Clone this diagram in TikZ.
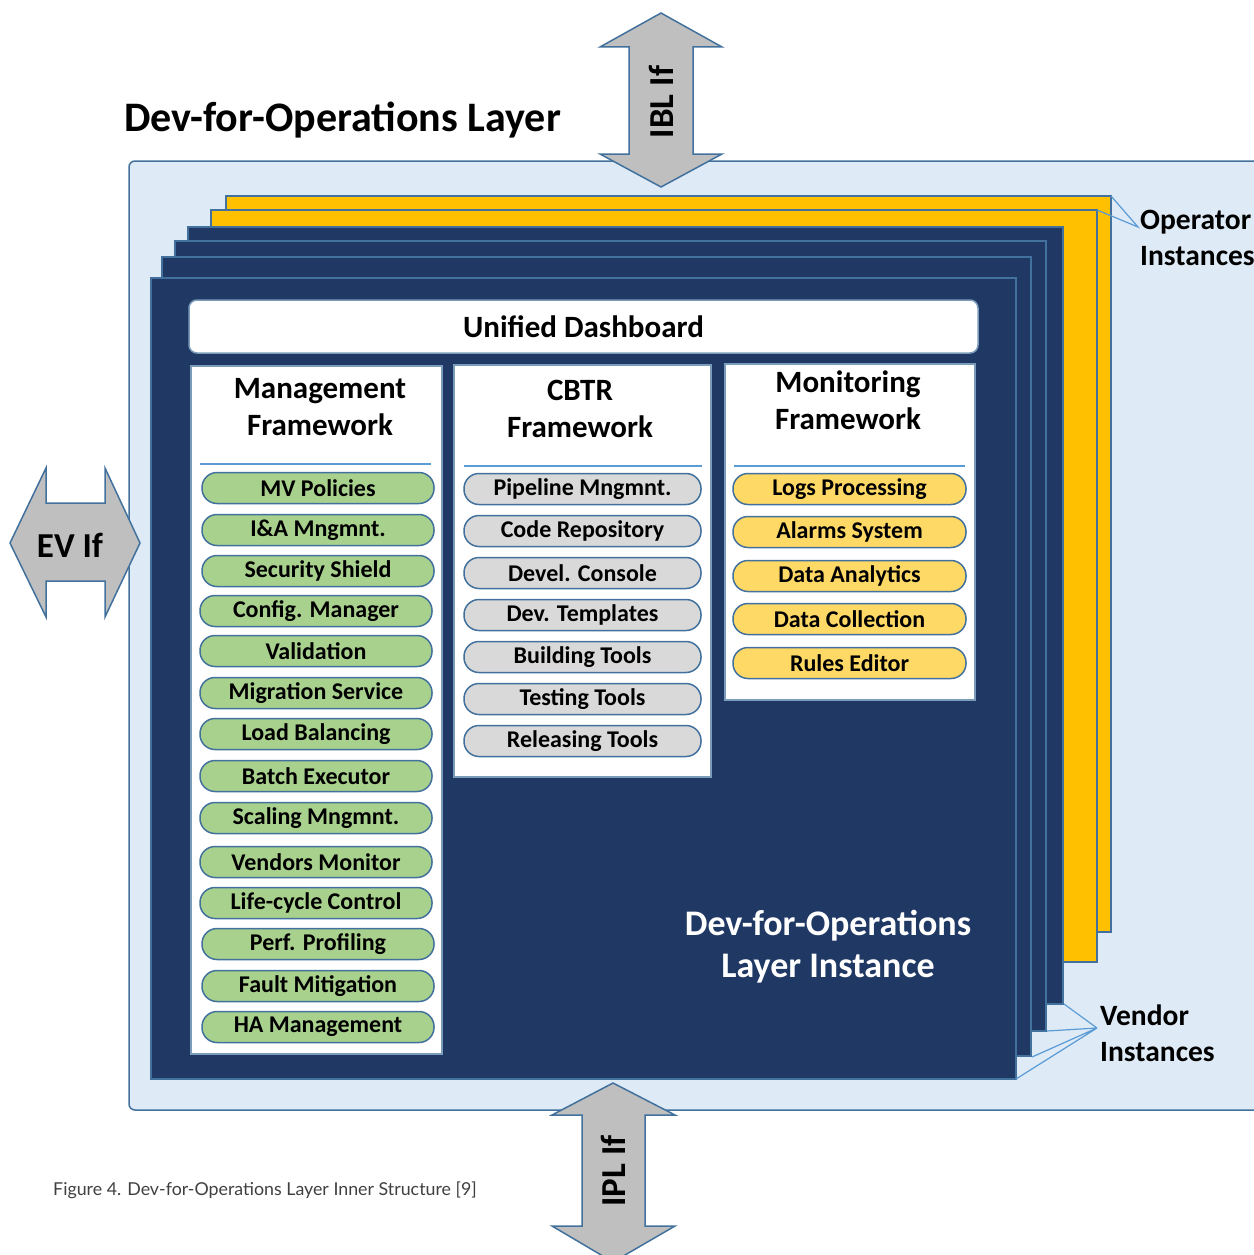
\documentclass[tikz,border=0pt]{standalone}
\usepackage{fontspec}
\setmainfont{Carlito}
\newfontfamily\capfont{Lato}
\definecolor{bgblue}{HTML}{DEEAF6}
\definecolor{edgeblue}{HTML}{41719C}
\definecolor{leadblue}{HTML}{5B9BD5}
\definecolor{navy}{HTML}{203864}
\definecolor{gold}{HTML}{FFC000}
\definecolor{greenit}{HTML}{A9D18E}
\definecolor{grayit}{HTML}{D9D9D9}
\definecolor{yellowit}{HTML}{FFD966}
\definecolor{arrowgray}{HTML}{BFBFBF}
\begin{document}
\begin{tikzpicture}[x=1pt,y=-1pt,
  layerY/.style={fill=gold,draw=edgeblue,line width=1.5pt},
  layerN/.style={fill=navy,draw=edgeblue,line width=1.5pt},
  frame/.style={fill=white,draw=edgeblue!70,line width=1.5pt},
  sep/.style={draw=leadblue,line width=1.5pt},
  item/.style={draw=edgeblue,line width=1.5pt,rounded corners=15pt,minimum height=31pt,inner sep=0pt,font=\fontsize{24}{26}\selectfont\bfseries},
  gitem/.style={item,fill=greenit,minimum width=232pt},
  citem/.style={item,fill=grayit,minimum width=237pt},
  yitem/.style={item,fill=yellowit,minimum width=233pt},
  ftitle/.style={align=center,font=\fontsize{31}{37.5}\selectfont\bfseries},
  arr/.style={fill=arrowgray,draw=edgeblue,line width=1.5pt,line join=miter},
  lead/.style={draw=leadblue,line width=1.2pt},
  lbl/.style={font=\fontsize{29.5}{36}\selectfont\bfseries,align=left,inner sep=0pt}]
\useasboundingbox (0,0) rectangle (1253,1255);
% outer layer
\draw[fill=bgblue,draw=edgeblue,line width=1.5pt,rounded corners=6pt] (129,161) -- (1260,161) -- (1260,1110) -- (129,1110) -- cycle;
\node[font=\fontsize{42}{46}\selectfont\bfseries,anchor=base west,inner sep=0pt] (title) at (124,131) {Dev-for-Operations Layer};
% arrows
\draw[arr] (661,13) -- (722,47) -- (693,47) -- (693,154) -- (722,154) -- (661,187) -- (600,154) -- (629,154) -- (629,47) -- (600,47) -- cycle;
\node[rotate=90,font=\fontsize{35}{37}\selectfont\bfseries] (ibl) at (661,102) {IBL If};
\draw[arr] (10,543) -- (46,468) -- (46,503) -- (105,503) -- (105,468) -- (140,543) -- (105,617) -- (105,581) -- (46,581) -- (46,617) -- cycle;
\node[font=\fontsize{35}{37}\selectfont\bfseries] (ev) at (70,545) {EV If};
\draw[arr] (613,1083) -- (675,1115) -- (645,1115) -- (645,1226) -- (675,1226) -- (613,1262) -- (552,1226) -- (582,1226) -- (582,1115) -- (552,1115) -- cycle;
\node[rotate=90,font=\fontsize{35}{37}\selectfont\bfseries] (ipl) at (613,1171) {IPL If};
% stacked instances
\draw[layerY] (226,196) rectangle (1111,932);
\draw[layerY] (211,210) rectangle (1097,962);
\draw[layerN] (188,227) rectangle (1063,1004);
\draw[layerN] (175,241) rectangle (1046,1031);
\draw[layerN] (162,257) rectangle (1031,1056);
\draw[layerN] (151,278) rectangle (1016,1079);
% leader lines
\coordinate (opc) at (1138,227);
\coordinate (y1c) at (1111,196);
\coordinate (y2c) at (1097,210);
\draw[lead] (y1c) -- (opc) -- (y2c);
\node[lbl,anchor=west] (oplbl) at (1140,238) {Operator\\Instances};
\coordinate (vnc) at (1097,1028);
\coordinate (n1c) at (1064,1004);
\coordinate (n2c) at (1047,1031);
\coordinate (n3c) at (1032,1057);
\coordinate (n4c) at (1016,1079);
\draw[lead] (n1c) -- (vnc) (n2c) -- (vnc) (n3c) -- (vnc) (n4c) -- (vnc);
\node[lbl,anchor=west] (vnlbl) at (1100,1033) {Vendor\\Instances};
% dashboard
\node[draw=edgeblue!70,fill=white,line width=1.5pt,rounded corners=8pt,minimum width=789pt,minimum height=53pt,inner sep=0pt,font=\fontsize{31}{33}\selectfont\bfseries] (dash) at (583.5,326.5) {Unified Dashboard};
% frameworks
\draw[frame] (191,366) rectangle (442,1054);
\draw[frame] (454,365) rectangle (711,777);
\draw[frame] (725,364) rectangle (975,700);
\node[ftitle] (mgt) at (320,407) {Management\\Framework};
\node[ftitle] (cbt) at (580,409) {CBTR\\Framework};
\node[ftitle] (mon) at (848,400) {Monitoring\\Framework};
\draw[sep] (200,464) -- (431,464);
\draw[sep] (464,466) -- (702,466);
\draw[sep] (734,466) -- (965,466);
% management items
\node[gitem] (g1) at (318,488) {MV Policies};
\node[gitem] (g2) at (318,530) {I\&A Mngmnt.};
\node[gitem] (g3) at (318,571) {Security Shield};
\node[gitem] (g4) at (316,611) {Config. Manager};
\node[gitem] (g5) at (316,651) {Validation};
\node[gitem] (g6) at (316,693) {Migration Service};
\node[gitem] (g7) at (316,734) {Load Balancing};
\node[gitem] (g8) at (316,776) {Batch Executor};
\node[gitem] (g9) at (316,818) {Scaling Mngmnt.};
\node[gitem] (g10) at (316,862) {Vendors Monitor};
\node[gitem] (g11) at (316,903) {Life-cycle Control};
\node[gitem] (g12) at (318,944) {Perf. Profiling};
\node[gitem] (g13) at (318,986) {Fault Mitigation};
\node[gitem] (g14) at (318,1027) {HA Management};
% CBTR items
\node[citem] (c1) at (582.5,489) {Pipeline Mngmnt.};
\node[citem] (c2) at (582.5,531) {Code Repository};
\node[citem] (c3) at (582.5,573) {Devel. Console};
\node[citem] (c4) at (582.5,615) {Dev. Templates};
\node[citem] (c5) at (582.5,657) {Building Tools};
\node[citem] (c6) at (582.5,699) {Testing Tools};
\node[citem] (c7) at (582.5,741) {Releasing Tools};
% monitoring items
\node[yitem] (m1) at (849.5,489) {Logs Processing};
\node[yitem] (m2) at (849.5,532) {Alarms System};
\node[yitem] (m3) at (849.5,576) {Data Analytics};
\node[yitem] (m4) at (849.5,619) {Data Collection};
\node[yitem] (m5) at (849.5,663) {Rules Editor};
% instance label
\node[white,align=center,font=\fontsize{36}{42}\selectfont\bfseries] (inst) at (828,947) {Dev-for-Operations\\Layer Instance};
% caption
\node[anchor=base west,inner sep=0pt,text=black!75,font=\capfont\fontsize{17.8}{20}\selectfont] (cap) at (53,1195) {Figure 4. Dev-for-Operations Layer Inner Structure [9]};
\end{tikzpicture}
\end{document}
